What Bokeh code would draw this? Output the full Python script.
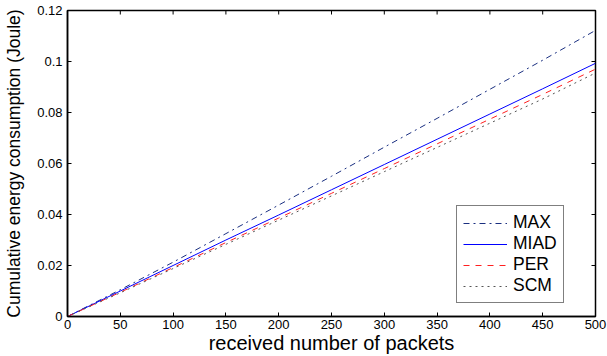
import math
from bokeh.plotting import figure
from bokeh.models import Range1d, FixedTicker, Legend, LegendItem
from bokeh.embed import file_html
from bokeh.resources import INLINE

packets = [0, 50, 100, 150, 200, 250, 300, 350, 400, 450, 500]
max_e  = [0, 0.0105, 0.0213, 0.0325, 0.0437, 0.0550, 0.0664, 0.0777, 0.0891, 0.1005, 0.1122]
miad_e = [0, 0.0100, 0.0200, 0.0300, 0.0398, 0.0497, 0.0596, 0.0695, 0.0794, 0.0893, 0.0993]
per_e  = [0, 0.0095, 0.0192, 0.0290, 0.0386, 0.0483, 0.0580, 0.0677, 0.0774, 0.0871, 0.0970]
scm_e  = [0, 0.0093, 0.0188, 0.0283, 0.0378, 0.0473, 0.0568, 0.0663, 0.0758, 0.0853, 0.0955]
x_ticks = [0, 50, 100, 150, 200, 250, 300, 350, 400, 450, 500]
y_ticks = [0, 0.02, 0.04, 0.06, 0.08, 0.1, 0.12]
y_labels = {0: "0", 0.02: "0.02", 0.04: "0.04", 0.06: "0.06", 0.08: "0.08", 0.1: "0.1", 0.12: "0.12"}

FONT = "Liberation Sans"
X_MAX = 500
Y_MAX = 0.12

p = figure(width=607, height=356, output_backend="svg", toolbar_location=None,
           x_range=Range1d(0, X_MAX), y_range=Range1d(0, Y_MAX),
           min_border_left=67, min_border_right=12, min_border_top=10, min_border_bottom=40)
p.background_fill_color = "white"
p.border_fill_color = "white"
p.grid.visible = False
p.outline_line_color = "black"
p.outline_line_width = 1.5

for ax in (p.xaxis[0], p.yaxis[0]):
    ax.major_tick_in = 4
    ax.major_tick_out = 0
    ax.minor_tick_line_color = None
    ax.axis_line_color = "black"
    ax.axis_line_width = 1.5
    ax.major_label_text_font = FONT
    ax.major_label_text_font_size = "13px"
    ax.major_label_text_color = "black"
    ax.axis_label_text_font = FONT
    ax.axis_label_text_font_style = "normal"
    ax.axis_label_text_color = "black"

p.xaxis.ticker = FixedTicker(ticks=x_ticks)
p.yaxis.ticker = FixedTicker(ticks=y_ticks)
p.yaxis.major_label_overrides = y_labels
p.xaxis.axis_label = "received number of packets"
p.xaxis.axis_label_text_font_size = "20px"
p.xaxis.axis_label_standoff = 0
p.xaxis.major_label_standoff = 3
p.yaxis.axis_label = "Cumulative energy consumption (Joule)"
p.yaxis.axis_label_text_font_size = "17.5px"
p.yaxis.axis_label_standoff = 10
p.yaxis.major_label_standoff = 5

# inward ticks on the top and right edges of the box
p.ray(x=x_ticks, y=[Y_MAX] * len(x_ticks), length=4, length_units="screen",
      angle=-math.pi / 2, line_color="black", line_width=1)
p.ray(x=[X_MAX] * len(y_ticks), y=y_ticks, length=4, length_units="screen",
      angle=math.pi, line_color="black", line_width=1)

r_max = p.line(packets, max_e, line_color="#1a2f80", line_width=1, line_dash="dashdot")
r_miad = p.line(packets, miad_e, line_color="#0000ff", line_width=1)
r_per = p.line(packets, per_e, line_color="#ff2020", line_width=1, line_dash="dashed")
r_scm = p.line(packets, scm_e, line_color="#555555", line_width=1, line_dash="dotted")

legend = Legend(items=[
    LegendItem(label="MAX", renderers=[r_max]),
    LegendItem(label="MIAD", renderers=[r_miad]),
    LegendItem(label="PER", renderers=[r_per]),
    LegendItem(label="SCM", renderers=[r_scm]),
], location=(389, 13))
legend.label_text_font = FONT
legend.label_text_font_size = "17.5px"
legend.label_text_color = "black"
legend.glyph_width = 44
legend.glyph_height = 20
legend.label_height = 20
legend.spacing = 0
legend.padding = 6
legend.margin = 0
legend.label_standoff = 6
legend.border_line_color = "black"
legend.border_line_width = 1.5
legend.background_fill_alpha = 1
p.add_layout(legend, "center")

open("out.html", "w").write(file_html(p, INLINE))
